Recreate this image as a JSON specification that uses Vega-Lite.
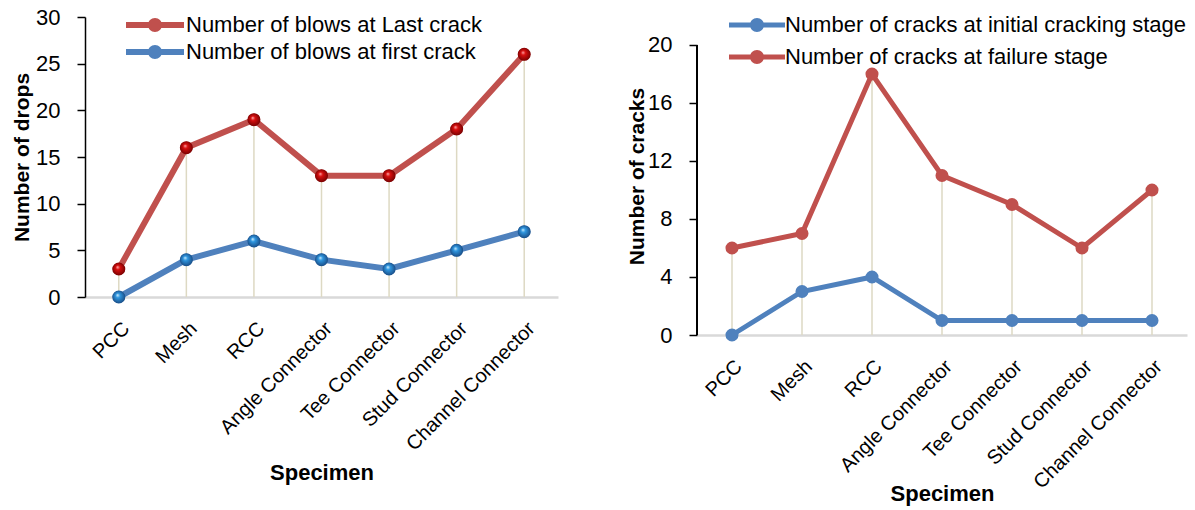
{
  "$schema": "https://vega.github.io/schema/vega-lite/v6.json",
  "background": "white",
  "padding": {"left": 11, "top": 6, "right": 5, "bottom": 5},
  "spacing": 68,
  "config": {
    "view": {"stroke": null},
    "font": "Liberation Sans",
    "axis": {"grid": false},
    "legend": {"padding": 0, "offset": 0}
  },
  "datasets": {
    "drops": [
      {"specimen": "PCC", "series": "Number of blows at Last crack", "value": 3},
      {"specimen": "Mesh", "series": "Number of blows at Last crack", "value": 16},
      {"specimen": "RCC", "series": "Number of blows at Last crack", "value": 19},
      {"specimen": "Angle Connector", "series": "Number of blows at Last crack", "value": 13},
      {"specimen": "Tee Connector", "series": "Number of blows at Last crack", "value": 13},
      {"specimen": "Stud Connector", "series": "Number of blows at Last crack", "value": 18},
      {"specimen": "Channel Connector", "series": "Number of blows at Last crack", "value": 26},
      {"specimen": "PCC", "series": "Number of blows at first crack", "value": 0},
      {"specimen": "Mesh", "series": "Number of blows at first crack", "value": 4},
      {"specimen": "RCC", "series": "Number of blows at first crack", "value": 6},
      {"specimen": "Angle Connector", "series": "Number of blows at first crack", "value": 4},
      {"specimen": "Tee Connector", "series": "Number of blows at first crack", "value": 3},
      {"specimen": "Stud Connector", "series": "Number of blows at first crack", "value": 5},
      {"specimen": "Channel Connector", "series": "Number of blows at first crack", "value": 7}
    ],
    "cracks": [
      {"specimen": "PCC", "series": "Number of cracks at initial cracking stage", "value": 0},
      {"specimen": "Mesh", "series": "Number of cracks at initial cracking stage", "value": 3},
      {"specimen": "RCC", "series": "Number of cracks at initial cracking stage", "value": 4},
      {"specimen": "Angle Connector", "series": "Number of cracks at initial cracking stage", "value": 1},
      {"specimen": "Tee Connector", "series": "Number of cracks at initial cracking stage", "value": 1},
      {"specimen": "Stud Connector", "series": "Number of cracks at initial cracking stage", "value": 1},
      {"specimen": "Channel Connector", "series": "Number of cracks at initial cracking stage", "value": 1},
      {"specimen": "PCC", "series": "Number of cracks at failure stage", "value": 6},
      {"specimen": "Mesh", "series": "Number of cracks at failure stage", "value": 7},
      {"specimen": "RCC", "series": "Number of cracks at failure stage", "value": 18},
      {"specimen": "Angle Connector", "series": "Number of cracks at failure stage", "value": 11},
      {"specimen": "Tee Connector", "series": "Number of cracks at failure stage", "value": 9},
      {"specimen": "Stud Connector", "series": "Number of cracks at failure stage", "value": 6},
      {"specimen": "Channel Connector", "series": "Number of cracks at failure stage", "value": 10}
    ]
  },
  "resolve": {"scale": {"color": "independent"}, "legend": {"color": "independent"}},
  "hconcat": [
    {
      "width": 473,
      "height": 280,
      "data": {"name": "drops"},
      "encoding": {
        "x": {
          "field": "specimen", "type": "nominal", "sort": null,
          "scale": {"type": "point", "padding": 0.5},
          "axis": {
            "title": "Specimen", "titleFont": "Liberation Sans", "titleFontWeight": "bold", "titleFontSize": 22, "titleColor": "black", "titlePadding": 8,
            "labelAngle": -45, "labelFont": "Liberation Sans", "labelFontSize": 20, "labelColor": "black", "labelPadding": 21,
            "domainColor": "#d9d9d9", "domainWidth": 2.5, "ticks": false
          }
        },
        "y": {
          "field": "value", "type": "quantitative",
          "scale": {"domain": [0, 30], "nice": false},
          "axis": {
            "title": "Number of drops", "titleFont": "Liberation Sans", "titleFontWeight": "bold", "titleFontSize": 21, "titleColor": "black", "titlePadding": 3,
            "values": [0, 5, 10, 15, 20, 25, 30],
            "labelFont": "Liberation Sans", "labelFontSize": 22, "labelColor": "black", "labelPadding": 17,
            "domainColor": "black", "domainWidth": 1.5, "tickColor": "black", "tickWidth": 1.5, "tickSize": 8
          }
        }
      },
      "layer": [
        {
          "transform": [{"filter": "datum.series === 'Number of blows at Last crack'"}],
          "mark": {"type": "rule", "color": "#ddd9c3", "strokeWidth": 1.5},
          "encoding": {"y2": {"datum": 0}}
        },
        {
          "mark": {"type": "point", "filled": true, "opacity": 1, "size": 150},
          "encoding": {
            "color": {
              "field": "series", "type": "nominal",
              "scale": {"domain": ["Number of blows at Last crack", "Number of blows at first crack"], "range": ["#c0504d", "#4f81bd"]},
              "legend": {
                "title": null, "orient": "none", "legendX": 59, "legendY": -3,
                "symbolType": "M-2.9,-0.3H2.9V0.3H-2.9Z M0.7,0 A0.7,0.7 0 1,1 -0.7,0 A0.7,0.7 0 1,1 0.7,0Z",
                "symbolSize": 400, "symbolStrokeWidth": 0, "symbolOpacity": 1,
                "labelFont": "Liberation Sans", "labelFontSize": 22, "labelColor": "black", "labelOffset": 20, "rowPadding": 5, "labelLimit": 500
              }
            }
          }
        },
        {
          "mark": {"type": "line", "strokeWidth": 6},
          "encoding": {
            "color": {"field": "series", "type": "nominal", "legend": {
                "title": null, "orient": "none", "legendX": 59, "legendY": -3,
                "symbolType": "M-2.9,-0.3H2.9V0.3H-2.9Z M0.7,0 A0.7,0.7 0 1,1 -0.7,0 A0.7,0.7 0 1,1 0.7,0Z",
                "symbolSize": 400, "symbolStrokeWidth": 0, "symbolOpacity": 1,
                "labelFont": "Liberation Sans", "labelFontSize": 22, "labelColor": "black", "labelOffset": 20, "rowPadding": 5, "labelLimit": 500
              }}
          }
        },
        {
          "transform": [{"filter": "datum.series === 'Number of blows at Last crack'"}],
          "mark": {"type": "point", "filled": true, "opacity": 1, "size": 170,
            "fill": {"gradient": "radial", "x1": 0.4, "y1": 0.35, "r1": 0, "x2": 0.5, "y2": 0.5, "r2": 0.55,
              "stops": [{"offset": 0, "color": "#ffb3b3"}, {"offset": 0.3, "color": "#d90f0f"}, {"offset": 1, "color": "#6e0000"}]}}
        },
        {
          "transform": [{"filter": "datum.series === 'Number of blows at first crack'"}],
          "mark": {"type": "point", "filled": true, "opacity": 1, "size": 170,
            "fill": {"gradient": "radial", "x1": 0.4, "y1": 0.35, "r1": 0, "x2": 0.5, "y2": 0.5, "r2": 0.55,
              "stops": [{"offset": 0, "color": "#d6f2ff"}, {"offset": 0.3, "color": "#2f97e0"}, {"offset": 1, "color": "#17457d"}]}}
        }
      ]
    },
    {
      "width": 490,
      "height": 318,
      "data": {"name": "cracks"},
      "encoding": {
        "x": {
          "field": "specimen", "type": "nominal", "sort": null,
          "scale": {"type": "band", "paddingInner": 0, "paddingOuter": 0},
          "axis": {
            "title": "Specimen", "titleFont": "Liberation Sans", "titleFontWeight": "bold", "titleFontSize": 22, "titleColor": "black", "titlePadding": -9,
            "labelAngle": -45, "labelFont": "Liberation Sans", "labelFontSize": 20, "labelColor": "black", "labelPadding": 21,
            "domainColor": "#d9d9d9", "domainWidth": 2.5, "ticks": false
          }
        },
        "y": {
          "field": "value", "type": "quantitative",
          "scale": {"domain": [0, 21.931], "nice": false, "zero": true},
          "axis": {
            "title": "Number of cracks", "titleFont": "Liberation Sans", "titleFontWeight": "bold", "titleFontSize": 21, "titleColor": "black", "titlePadding": 0,
            "values": [0, 4, 8, 12, 16, 20],
            "labelFont": "Liberation Sans", "labelFontSize": 22, "labelColor": "black", "labelPadding": 17,
            "domain": false, "tickColor": "black", "tickWidth": 1.5, "tickSize": 8
          }
        }
      },
      "layer": [
        {
          "mark": {"type": "rule", "color": "black", "strokeWidth": 1.5},
          "encoding": {
            "x": {"datum": "PCC", "type": "nominal", "bandPosition": 0},
            "y": {"datum": 0, "type": "quantitative"},
            "y2": {"datum": 20}
          }
        },
        {
          "transform": [{"filter": "datum.series === 'Number of cracks at failure stage'"}],
          "mark": {"type": "rule", "color": "#ddd9c3", "strokeWidth": 1.5},
          "encoding": {"y2": {"datum": 0}}
        },
        {
          "mark": {"type": "line", "strokeWidth": 5},
          "encoding": {
            "color": {
              "field": "series", "type": "nominal",
              "scale": {"domain": ["Number of cracks at initial cracking stage", "Number of cracks at failure stage"], "range": ["#4f81bd", "#c0504d"]},
              "legend": {
                "title": null, "orient": "none", "legendX": 49, "legendY": -3,
                "symbolType": "M-2.8,-0.25H2.8V0.25H-2.8Z M0.7,0 A0.7,0.7 0 1,1 -0.7,0 A0.7,0.7 0 1,1 0.7,0Z",
                "symbolSize": 400, "symbolStrokeWidth": 0, "symbolOpacity": 1,
                "labelFont": "Liberation Sans", "labelFontSize": 22, "labelColor": "black", "labelOffset": 17, "rowPadding": 10, "labelLimit": 500
              }
            }
          }
        },
        {
          "mark": {"type": "point", "filled": true, "opacity": 1, "size": 170},
          "encoding": {
            "color": {"field": "series", "type": "nominal", "legend": {
                "title": null, "orient": "none", "legendX": 49, "legendY": -3,
                "symbolType": "M-2.8,-0.25H2.8V0.25H-2.8Z M0.7,0 A0.7,0.7 0 1,1 -0.7,0 A0.7,0.7 0 1,1 0.7,0Z",
                "symbolSize": 400, "symbolStrokeWidth": 0, "symbolOpacity": 1,
                "labelFont": "Liberation Sans", "labelFontSize": 22, "labelColor": "black", "labelOffset": 17, "rowPadding": 10, "labelLimit": 500
              }}
          }
        }
      ]
    }
  ]
}
